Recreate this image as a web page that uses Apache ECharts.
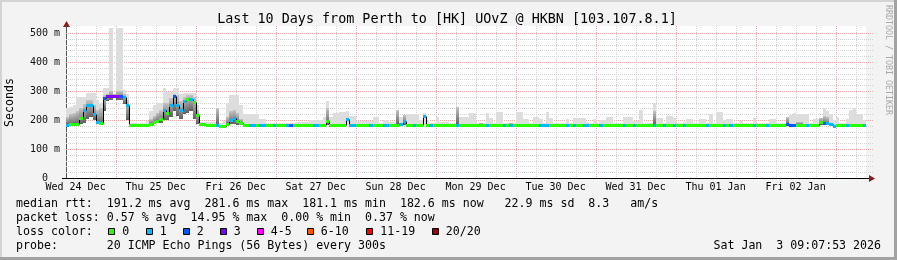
<!DOCTYPE html>
<html><head><meta charset="utf-8">
<script src="https://cdn.jsdelivr.net/npm/echarts@6/dist/echarts.min.js"></script>
<style>html,body{margin:0;padding:0;background:#f3f3f3}#c{width:897px;height:260px}</style>
</head><body><div id="c"></div>
<script>
// ---- text / labels ----
const titleText = 'Last 10 Days from Perth to [HK] UOvZ @ HKBN [103.107.8.1]';
const dayLabels = ['Wed 24 Dec','Thu 25 Dec','Fri 26 Dec','Sat 27 Dec','Sun 28 Dec','Mon 29 Dec','Tue 30 Dec','Wed 31 Dec','Thu 01 Jan','Fri 02 Jan'];
const yTicks = [0, 100, 200, 300, 400, 500];
const lossColors = ['#26ff00','#00b8ff','#0059ff','#7e00ff','#ff00ff','#ff5500','#ff0000','#a10000'];
const lossLabels = ['0','1','2','3','4-5','6-10','11-19','20/20'];
const rowRtt = 'median rtt:  191.2 ms avg  281.6 ms max  181.1 ms min  182.6 ms now   22.9 ms sd  8.3   am/s';
const rowLoss = 'packet loss: 0.57 % avg  14.95 % max  0.00 % min  0.37 % now';
const rowColor = 'loss color:';
const rowProbe = 'probe:       20 ICMP Echo Pings (56 Bytes) every 300s';
const stamp = 'Sat Jan  3 09:07:53 2026';

// ---- data: hourly bins starting Wed 24 Dec 09:07:53 (hours since Dec 24 00:00) ----
const startHour = 9.1314;
const med = [
183,186,186,186,207,236,252,252,222,194,191,275,283,283,283,283,282,280,250,182,182,182,182,182,
183,187,192,196,204,234,223,252,281,250,234,266,272,274,262,217,185,185,184,184,184,183,180,180,
186,200,206,198,188,184,184,181,182,183,181,181,183,183,183,183,183,183,183,183,183,183,183,183,
183,183,182,182,183,183,198,183,183,183,183,183,204,182,182,183,183,183,183,182,183,183,183,182,
182,183,183,183,186,195,183,183,182,183,183,213,183,182,183,183,183,183,183,183,183,182,183,183,
183,183,183,183,183,183,182,183,183,183,183,182,183,181,183,183,183,183,183,183,183,183,182,182,
182,183,183,183,183,183,182,183,182,183,183,182,182,183,183,183,182,183,183,183,183,183,183,182,
183,183,182,183,183,183,183,183,182,183,183,182,183,183,182,183,183,182,183,183,183,183,183,183,
182,183,183,183,183,182,183,182,183,183,183,183,183,183,182,183,183,183,182,183,183,183,183,183,
186,184,184,183,183,183,182,181,183,183,194,190,188,187,180,183,183,183,182,183,183,183,183,182];
const loss = [
1,0,0,0,0,1,1,1,1,1,0,2,3,3,3,3,2,1,1,0,0,0,0,0,
0,0,0,0,0,1,0,1,2,1,1,1,0,1,0,0,0,0,0,0,0,1,0,0,
0,1,1,0,0,0,0,1,1,0,1,1,0,0,1,0,0,0,1,2,0,0,0,0,
0,0,1,1,0,0,0,0,0,0,0,0,1,1,1,0,0,0,0,1,0,0,0,1,
1,0,0,0,1,1,0,0,1,0,0,1,0,1,0,0,0,0,0,0,0,1,0,0,
0,0,0,0,0,0,1,0,0,0,0,1,0,1,0,0,0,0,0,0,0,0,1,1,
1,0,0,0,0,0,1,0,1,0,0,1,1,0,0,0,1,0,0,0,0,0,0,1,
0,0,1,0,0,0,0,0,1,0,0,1,0,0,1,0,0,1,0,0,0,0,0,0,
1,0,0,0,0,1,0,1,0,0,0,0,0,0,1,0,0,0,1,0,0,0,0,0,
2,2,2,0,0,0,1,0,0,0,0,2,1,1,1,0,0,0,1,0,0,0,0,1];
const smokeLo = [
182,183,183,184,186,190,205,210,200,185,184,230,265,270,275,270,270,255,200,180,180,180,180,180,
181,183,185,188,190,200,200,210,230,215,205,220,225,230,205,185,181,181,181,181,181,181,179,179,
182,185,185,183,182,181,181,180,180,181,180,180,181,181,181,181,181,181,181,181,181,181,181,181,
181,181,181,181,181,181,181,181,181,181,181,181,181,181,181,181,181,181,181,181,181,181,181,181,
181,181,181,181,181,181,181,181,181,181,181,181,181,181,181,181,181,181,181,181,181,181,181,181,
181,181,181,181,181,181,181,181,181,181,181,181,181,180,181,181,181,181,181,181,181,181,181,181,
181,181,181,181,181,181,181,181,181,181,181,181,181,181,181,181,181,181,181,181,181,181,181,181,
181,181,181,181,181,181,181,181,181,181,181,181,181,181,181,181,181,181,181,181,181,181,181,181,
181,181,181,181,181,181,181,181,181,181,181,181,181,181,181,181,181,181,181,181,181,181,181,181,
182,181,181,181,181,181,181,179,181,181,183,182,181,181,178,181,181,181,181,181,181,181,181,181];
const smokeHi = [
240,245,250,280,280,280,293,293,293,270,260,310,310,517,290,517,517,303,290,188,188,188,188,188,
195,230,250,258,258,310,296,296,310,310,290,293,293,293,293,250,192,192,192,192,192,240,190,195,
260,286,286,286,250,220,220,220,220,220,202,202,188,188,188,188,188,188,188,188,188,192,192,192,
192,201,201,201,201,212,264,212,223,223,229,229,231,214,214,197,197,197,197,197,212,212,190,200,
200,194,194,236,212,217,222,222,222,222,200,223,200,190,190,212,194,194,194,190,190,246,212,212,
212,223,223,190,190,190,223,206,190,229,229,190,190,190,188,229,229,202,202,188,212,212,202,188,
226,206,188,188,188,188,202,188,208,208,208,208,194,188,202,188,200,200,212,212,188,188,188,210,
210,210,197,197,234,188,188,188,258,206,206,188,215,215,208,188,188,194,202,202,188,188,202,202,
190,221,188,227,227,200,202,202,188,188,197,188,188,188,208,188,188,188,188,202,202,188,188,188,
210,217,223,222,222,220,220,188,202,202,208,240,230,220,200,212,188,188,202,234,240,220,220,200];
const smokeDark = [
210,220,225,230,240,255,270,270,250,235,240,285,290,300,288,300,300,290,270,0,0,0,0,0,
0,205,215,225,235,260,260,275,290,285,265,280,285,285,280,235,0,0,0,0,0,240,0,0,
210,230,235,225,205,0,0,0,0,0,0,0,0,0,0,0,0,0,0,0,0,0,0,0,
0,0,0,0,0,0,240,0,0,0,0,0,0,0,0,0,0,0,0,0,0,0,0,0,
0,0,0,236,0,217,0,0,0,0,0,0,0,0,0,0,0,0,0,0,0,246,0,0,
0,0,0,0,190,0,0,0,0,0,0,0,0,190,0,0,0,0,0,0,0,0,0,0,
0,0,0,0,0,0,0,0,0,0,0,0,0,0,0,0,0,0,0,0,0,0,0,0,
0,0,0,0,0,0,0,0,230,0,0,0,0,0,0,0,0,0,0,0,0,0,0,0,
0,0,0,0,0,0,0,0,0,0,0,0,0,0,0,0,0,0,0,0,0,0,0,0,
210,0,0,192,192,0,0,0,0,0,208,215,212,0,0,0,0,0,0,0,0,0,0,0];

const endHour = startHour + med.length;
const FONT = '"DejaVu Sans Mono", monospace';
const MINOR = '#d2d2d2', MAJOR = '#e8aaaa';

const smokeData = med.map((m, i) => [startHour + i, smokeLo[i], smokeHi[i], smokeDark[i]]);
const medData = med.map((m, i) => [startHour + i, m, loss[i], i > 0 ? med[i - 1] : m]);
const vLines = [];
for (let h = Math.ceil(startHour / 6) * 6; h < endHour; h += 6) vLines.push([h, 0, h % 24 === 0 ? 1 : 0]);
const hLines = [];
for (let v = 20; v <= 500; v += 20) hLines.push([startHour, v, v % 100 === 0 ? 1 : 0]);
const labelHours = dayLabels.map((d, k) => 12 + 24 * k);

const chart = echarts.init(document.getElementById('c'), null, {width: 897, height: 260});

function px(v) { return Math.round(v); }
const darkFill = new echarts.graphic.LinearGradient(0, 0, 0, 1, [
  {offset: 0, color: '#c4c4c4'}, {offset: 0.6, color: '#8a8a8a'}, {offset: 1, color: '#5e5e5e'}]);

const option = {
  animation: false,
  backgroundColor: '#f3f3f3',
  grid: {left: 66, right: 31, top: 26, bottom: 82, show: true, backgroundColor: '#ffffff', borderWidth: 0},
  xAxis: {
    type: 'value', min: startHour, max: endHour,
    axisLine: {show: true, lineStyle: {color: '#000', width: 1}},
    axisTick: {show: false}, splitLine: {show: false},
    axisLabel: {customValues: labelHours, margin: 4, color: '#000', fontFamily: FONT, fontSize: 10,
      formatter: v => dayLabels[Math.round((v - 12) / 24)] || ''}
  },
  yAxis: {
    type: 'value', min: 0, max: 524,
    axisLine: {show: true, lineStyle: {color: '#555', width: 1}},
    axisTick: {show: false}, splitLine: {show: false},
    axisLabel: {customValues: yTicks, margin: 6, color: '#111', fontFamily: FONT, fontSize: 10,
      formatter: v => v === 0 ? '0  ' : v + ' m'}
  },
  series: [
    {type: 'custom', data: vLines, encode: {x: 0, y: 1}, silent: true, z: 1,
     renderItem: (p, api) => {
       const cs = p.coordSys; const x = px(api.coord([api.value(0), 0])[0]) + 0.5;
       return {type: 'line', shape: {x1: x, y1: cs.y, x2: x, y2: cs.y + cs.height},
         style: {stroke: api.value(2) ? MAJOR : MINOR, lineWidth: 1, lineDash: [1, 1]}};
     }},
    {type: 'custom', data: hLines, encode: {x: 0, y: 1}, silent: true, z: 1, clip: false,
     renderItem: (p, api) => {
       const cs = p.coordSys; const y = px(api.coord([startHour, api.value(1)])[1]) + 0.5;
       return {type: 'line', shape: {x1: cs.x, y1: y, x2: cs.x + cs.width + 8, y2: y},
         style: {stroke: api.value(2) ? MAJOR : MINOR, lineWidth: 1, lineDash: [1, 1]}};
     }},
    {type: 'custom', data: smokeData, encode: {x: 0, y: [1, 2]}, silent: true, z: 2,
     renderItem: (p, api) => {
       const t = api.value(0);
       const a = api.coord([t, api.value(2)]), b = api.coord([t + 1, api.value(1)]);
       const x0 = px(a[0]), x1 = px(b[0]);
       const kids = [{type: 'rect', shape: {x: x0, y: px(a[1]), width: x1 - x0, height: px(b[1]) - px(a[1])}, style: {fill: '#dddddd'}}];
       const d = api.value(3);
       if (d > 0) {
         const c = api.coord([t, d]);
         kids.push({type: 'rect', shape: {x: x0, y: px(c[1]), width: x1 - x0, height: px(b[1]) - px(c[1])}, style: {fill: darkFill}});
       }
       return {type: 'group', children: kids};
     }},
    {type: 'custom', data: medData, encode: {x: 0, y: 1}, silent: true, z: 3,
     renderItem: (p, api) => {
       const t = api.value(0);
       const a = api.coord([t, api.value(3)]), b = api.coord([t, api.value(1)]);
       const x = px(a[0]) + 0.5;
       return {type: 'line', shape: {x1: x, y1: px(a[1]) + 0.5, x2: x, y2: px(b[1]) + 0.5}, style: {stroke: '#000', lineWidth: 1}};
     }},
    {type: 'custom', data: medData, encode: {x: 0, y: 1}, silent: true, z: 4,
     renderItem: (p, api) => {
       const t = api.value(0);
       const a = api.coord([t, api.value(1)]), b = api.coord([t + 1, api.value(1)]);
       const y = px(a[1]) + 0.5;
       return {type: 'line', shape: {x1: px(a[0]), y1: y, x2: px(b[0]), y2: y}, style: {stroke: lossColors[api.value(2)], lineWidth: 3}};
     }}
  ],
  graphic: []
};

const g = [];
// border shading
g.push({type: 'rect', shape: {x: 0, y: 0, width: 897, height: 2}, style: {fill: '#d4d4d4'}, silent: true});
g.push({type: 'rect', shape: {x: 0, y: 0, width: 2, height: 260}, style: {fill: '#d4d4d4'}, silent: true});
g.push({type: 'rect', shape: {x: 894, y: 0, width: 3, height: 260}, style: {fill: '#a2a2a2'}, silent: true});
g.push({type: 'rect', shape: {x: 0, y: 257, width: 897, height: 3}, style: {fill: '#a2a2a2'}, silent: true});
// axis extensions & arrows
g.push({type: 'line', shape: {x1: 62, y1: 178.5, x2: 66, y2: 178.5}, style: {stroke: '#000', lineWidth: 1}, silent: true});
g.push({type: 'line', shape: {x1: 866, y1: 178.5, x2: 870, y2: 178.5}, style: {stroke: '#000', lineWidth: 1}, silent: true});
g.push({type: 'polygon', shape: {points: [[875, 178.5], [869, 175], [869, 182]]}, style: {fill: '#8b1a1a'}, silent: true});
g.push({type: 'polygon', shape: {points: [[66.5, 21], [63, 27], [70, 27]]}, style: {fill: '#8b1a1a'}, silent: true});
// title
g.push({type: 'text', x: 447, y: 19.5, silent: true, style: {text: titleText, font: '13.4px ' + FONT, fill: '#000', align: 'center', verticalAlign: 'middle'}});
// side texts
g.push({type: 'text', x: 10, y: 102.5, rotation: Math.PI / 2, silent: true, style: {text: 'Seconds', font: '11.6px ' + FONT, fill: '#000', align: 'center', verticalAlign: 'middle'}});
g.push({type: 'text', x: 888, y: 60, rotation: -Math.PI / 2, silent: true, style: {text: 'RRDTOOL / TOBI OETIKER', font: '8.3px ' + FONT, fill: '#a8a8a8', align: 'center', verticalAlign: 'middle'}});
// legend rows
const rowY = [203.5, 217.8, 232, 246.2];
[rowRtt, rowLoss, rowColor, rowProbe].forEach((t, k) => {
  g.push({type: 'text', x: 16, y: rowY[k], silent: true, style: {text: t, font: '11.6px ' + FONT, fill: '#000', align: 'left', verticalAlign: 'middle'}});
});
const boxX = [108, 145.5, 182.5, 219.5, 256.5, 306.5, 366, 431.5];
lossLabels.forEach((lab, k) => {
  g.push({type: 'rect', shape: {x: px(boxX[k]) + 0.5, y: 228.5, width: 6, height: 6}, style: {fill: lossColors[k], stroke: '#000', lineWidth: 1}, silent: true});
  g.push({type: 'text', x: boxX[k] + 14.3, y: rowY[2], silent: true, style: {text: lab, font: '11.6px ' + FONT, fill: '#000', align: 'left', verticalAlign: 'middle'}});
});
g.push({type: 'text', x: 881, y: rowY[3], silent: true, style: {text: stamp, font: '11.6px ' + FONT, fill: '#000', align: 'right', verticalAlign: 'middle'}});
option.graphic = g;
chart.setOption(option);
</script></body></html>
